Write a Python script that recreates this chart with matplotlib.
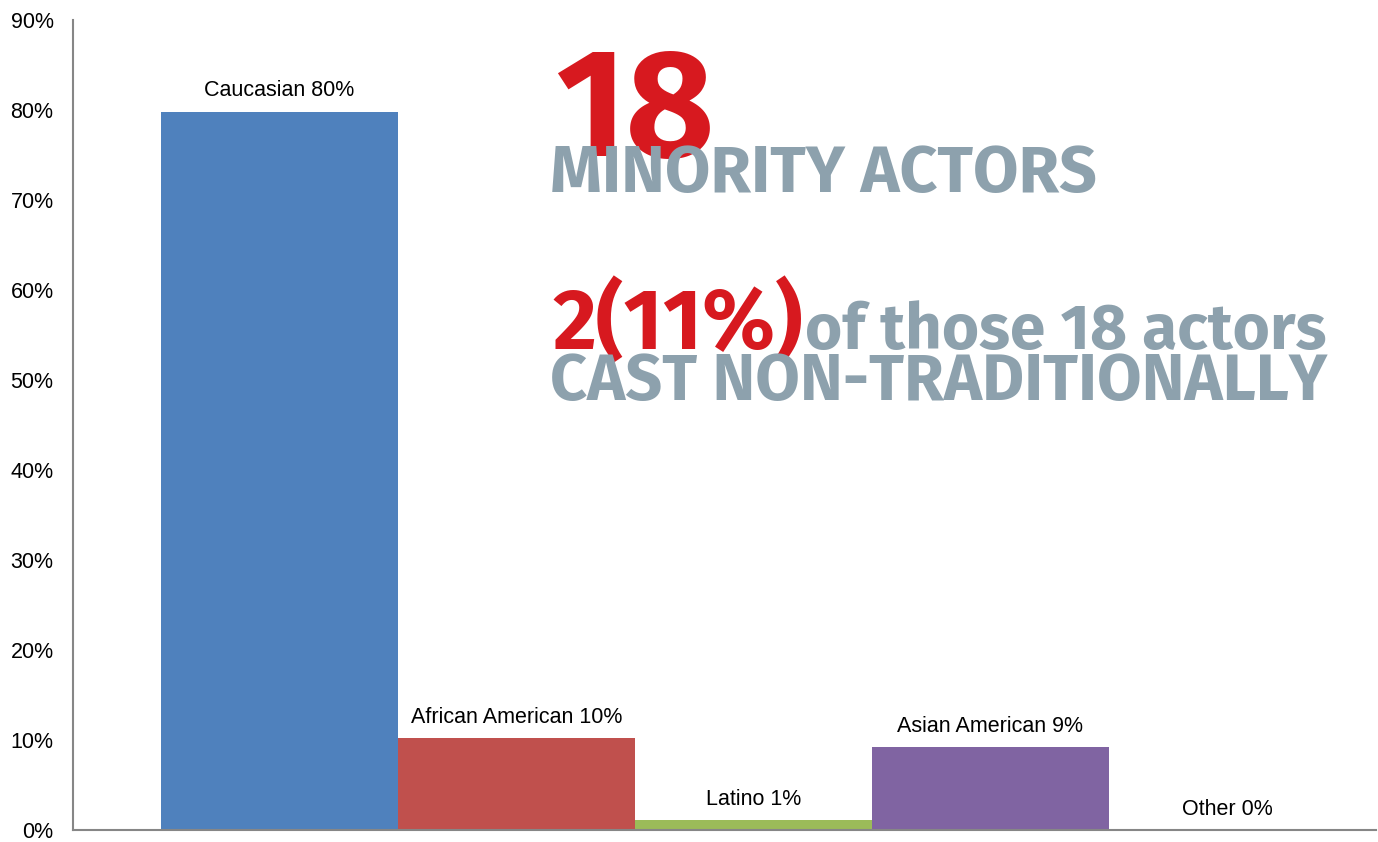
import matplotlib
matplotlib.use("Agg")
import matplotlib.pyplot as plt
from matplotlib.ticker import PercentFormatter

# data
groups = ["Caucasian", "African American", "Latino", "Asian American", "Other"]
shares = [79.8, 10.2, 1.1, 9.2, 0.0]
label_pct = ["80%", "10%", "1%", "9%", "0%"]
colors = ["#4F81BD", "#C0504D", "#9BBB59", "#8064A2", "#4BACC6"]

W, H = 1378, 842
fig = plt.figure(figsize=(W / 100, H / 100), dpi=100)
ax = fig.add_axes([73 / W, 1 - 830 / H, (1376 - 73) / W, (830 - 20) / H])

pos = list(range(len(groups)))
ax.bar(pos, shares, width=1.0, color=colors, zorder=2)

for p, v, g, t in zip(pos, shares, groups, label_pct):
    ax.annotate(f"{g} {t}", (p, v), xytext=(0, 15), textcoords="offset points",
                ha="center", va="center", fontsize=15.5, family="Liberation Sans")

ax.set_ylim(0, 90)
ax.set_yticks(range(0, 91, 10))
ax.yaxis.set_major_formatter(PercentFormatter(decimals=0))
ax.set_xlim(-0.871, 4.627)
ax.set_xticks([])
ax.tick_params(axis="y", length=0, pad=14, labelsize=15.5)
for lab in ax.get_yticklabels():
    lab.set_family("Liberation Sans")
for s in ["top", "right"]:
    ax.spines[s].set_visible(False)
for s in ["left", "bottom"]:
    ax.spines[s].set_color("#868686")
    ax.spines[s].set_linewidth(1.5)

# headline overlay
red = "#D7191F"
grey = "#8DA1AD"
big = ["Fira Sans", "Open Sans", "DejaVu Sans"]

def put(txt, x, y, size, color, z):
    fig.text(x / W, 1 - y / H, txt, fontsize=size, color=color, family=big,
             weight="bold", ha="left", va="baseline", zorder=z)

put("18", 555, 156, 110, red, 5)
put("MINORITY ACTORS", 550, 192, 47.5, grey, 6)
put("2(11%)", 552, 349, 61, red, 5)
put("of those 18 actors", 805, 349, 46, grey, 6)
put("CAST NON-TRADITIONALLY", 550, 400, 46.5, grey, 6)

plt.savefig("out.png")
